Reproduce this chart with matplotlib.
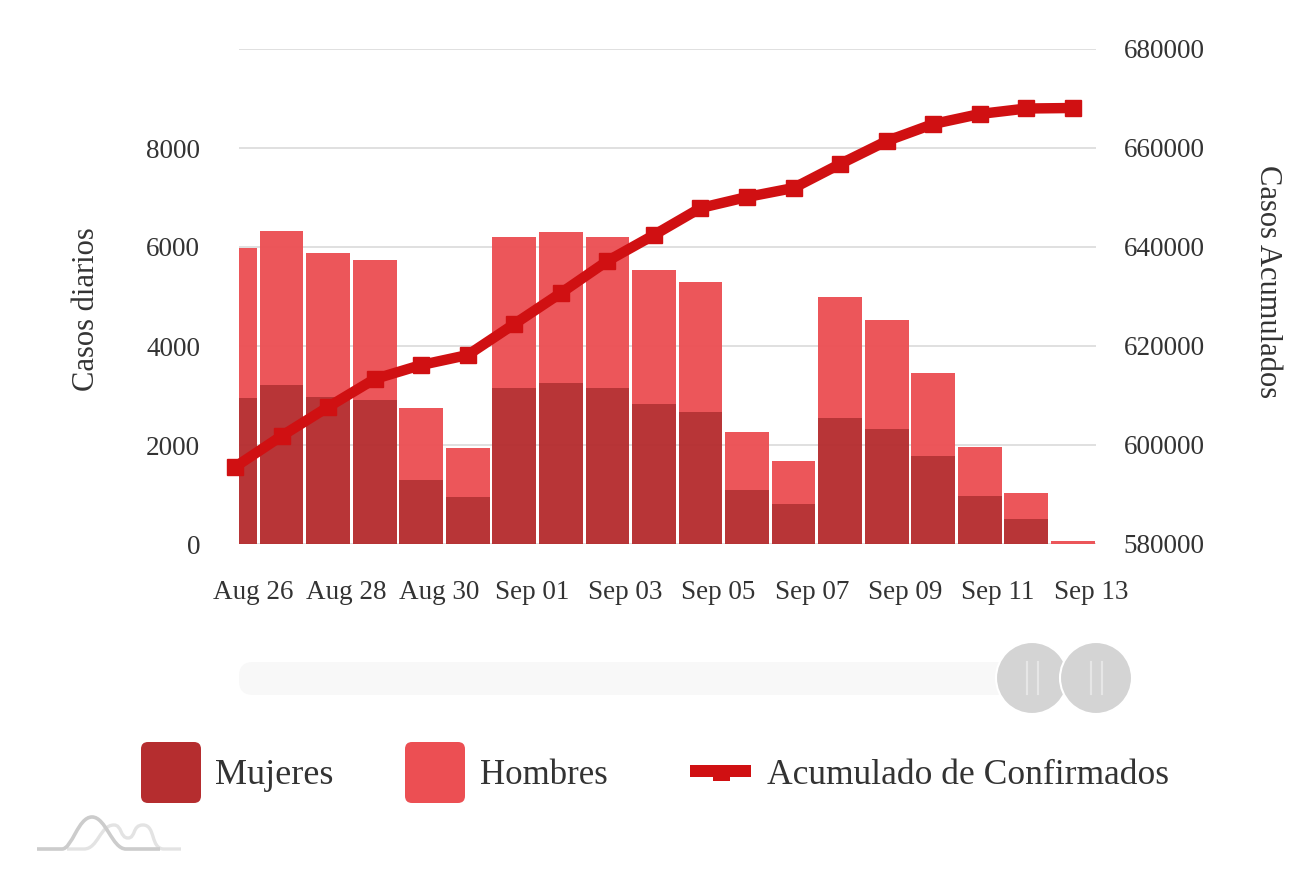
import matplotlib
matplotlib.use('Agg')
import matplotlib.pyplot as plt
from matplotlib.patches import Circle, FancyBboxPatch, PathPatch, Rectangle
from matplotlib.path import Path

dias = ['Aug 26', 'Aug 27', 'Aug 28', 'Aug 29', 'Aug 30', 'Aug 31', 'Sep 01', 'Sep 02', 'Sep 03', 'Sep 04',
        'Sep 05', 'Sep 06', 'Sep 07', 'Sep 08', 'Sep 09', 'Sep 10', 'Sep 11', 'Sep 12', 'Sep 13']
mujeres = [2950, 3210, 2970, 2910, 1290, 950, 3150, 3250, 3150, 2830,
           2670, 1090, 810, 2550, 2320, 1780, 970, 505, 10]
hombres = [3030, 3110, 2910, 2830, 1450, 990, 3050, 3050, 3050, 2710,
           2630, 1170, 870, 2440, 2200, 1680, 990, 530, 50]
acumulado = [595560, 601820, 607680, 613330, 616160, 618180, 624440, 630700, 637170, 642420,
             647880, 650100, 651920, 656770, 661410, 664850, 666870, 667980, 668080]

color_mujeres = '#b52d2f'
color_hombres = '#ec4f53'
color_linea = '#d01012'
color_texto = '#333333'

W, H = 1313, 869
plt.rcParams['font.family'] = ['Liberation Serif', 'DejaVu Serif']

fig = plt.figure(figsize=(W / 100, H / 100), dpi=100)
ax = fig.add_axes([239 / W, 1 - 544 / H, (1096 - 239) / W, (544 - 49) / H])

x = list(range(len(dias)))
ax.bar(x, mujeres, width=0.94, color=color_mujeres, alpha=0.96, zorder=2)
ax.bar(x, hombres, width=0.94, bottom=mujeres, color=color_hombres, alpha=0.96, zorder=2)

# el primer dia queda cortado por el borde del eje
paso = 46.55
ax.set_xlim(4 / paso, 861 / paso)
ax.set_ylim(0, 10000)
ax.set_yticks([0, 2000, 4000, 6000, 8000, 10000], ['0', '2000', '4000', '6000', '8000', ''])
ax.set_xticks([i + 0.39 for i in x[::2]], dias[::2])
ax.grid(True, axis='y', color='#dddddd', linewidth=1.3, zorder=0)
ax.set_axisbelow(True)
ax.tick_params(axis='both', length=0, labelsize=19.5, labelcolor=color_texto)
ax.tick_params(axis='x', pad=26)
ax.tick_params(axis='y', pad=28)
for s in ax.spines.values():
    s.set_visible(False)
ax.set_ylabel('Casos diarios', fontsize=22, color=color_texto, va='center')
ax.yaxis.set_label_coords((86 - 239) / 857, (544 - 309) / 495)

ax2 = ax.twinx()
ax2.plot(x, acumulado, color=color_linea, linewidth=7.5, marker='s', markersize=11.5,
         clip_on=False, zorder=5)
ax2.set_ylim(580000, 680000)
ax2.set_yticks([580000, 600000, 620000, 640000, 660000, 680000])
ax2.tick_params(axis='y', length=0, labelsize=19.5, labelcolor=color_texto, pad=20)
for s in ax2.spines.values():
    s.set_visible(False)
ax2.set_ylabel('Casos Acumulados', fontsize=22, color=color_texto, rotation=270, va='center')
ax2.yaxis.set_label_coords((1267 - 239) / 857, (544 - 282) / 495)

# capa en pixeles para el scrollbar, la leyenda y el logo
capa = fig.add_axes([0, 0, 1, 1], zorder=10)
capa.set_xlim(0, W)
capa.set_ylim(H, 0)
capa.axis('off')

capa.add_patch(FancyBboxPatch((239, 662), 790, 33, boxstyle='round,pad=0,rounding_size=14',
                              facecolor='#f8f8f8', edgecolor='none'))
for cx in [1032, 1096]:
    capa.add_patch(Circle((cx, 678), 36, facecolor='#d4d4d4', edgecolor='white', linewidth=1.5))
    for dx in [-5.5, 5.5]:
        capa.plot([cx + dx, cx + dx], [662, 694], color='#e6e6e6', linewidth=1.6)

capa.add_patch(FancyBboxPatch((141, 742), 60, 61, boxstyle='round,pad=0,rounding_size=7',
                              facecolor=color_mujeres, edgecolor='none'))
capa.add_patch(FancyBboxPatch((405, 742), 60, 61, boxstyle='round,pad=0,rounding_size=7',
                              facecolor=color_hombres, edgecolor='none'))
capa.add_patch(Rectangle((690, 765), 61, 12, facecolor=color_linea, edgecolor='none'))
capa.add_patch(Rectangle((713, 765), 17, 16, facecolor=color_linea, edgecolor='none'))
capa.text(215, 784, 'Mujeres', fontsize=26, color=color_texto, va='baseline')
capa.text(480, 784, 'Hombres', fontsize=25, color=color_texto, va='baseline')
capa.text(767, 784, 'Acumulado de Confirmados', fontsize=25.6, color=color_texto, va='baseline')

# logo
C3 = Path.CURVE4
logo_gris = Path([(37, 849), (62, 849), (72, 849), (78, 817), (92, 817), (106, 817), (112, 849), (126, 849), (160, 849)],
                 [Path.MOVETO, Path.LINETO, C3, C3, C3, C3, C3, C3, Path.LINETO])
logo_claro = Path([(67, 849), (84, 849), (98, 849), (100, 825), (114, 825), (122, 825), (120, 838), (128, 838),
                   (136, 838), (132, 825), (143, 825), (156, 825), (150, 849), (164, 849), (181, 849)],
                  [Path.MOVETO, Path.LINETO, C3, C3, C3, C3, C3, C3, C3, C3, C3, C3, C3, C3, Path.LINETO])
capa.add_patch(PathPatch(logo_claro, fill=False, edgecolor='#e3e3e3', linewidth=2.4))
capa.add_patch(PathPatch(logo_gris, fill=False, edgecolor='#cccccc', linewidth=2.6))

fig.savefig('out.png', dpi=100, facecolor='white')
